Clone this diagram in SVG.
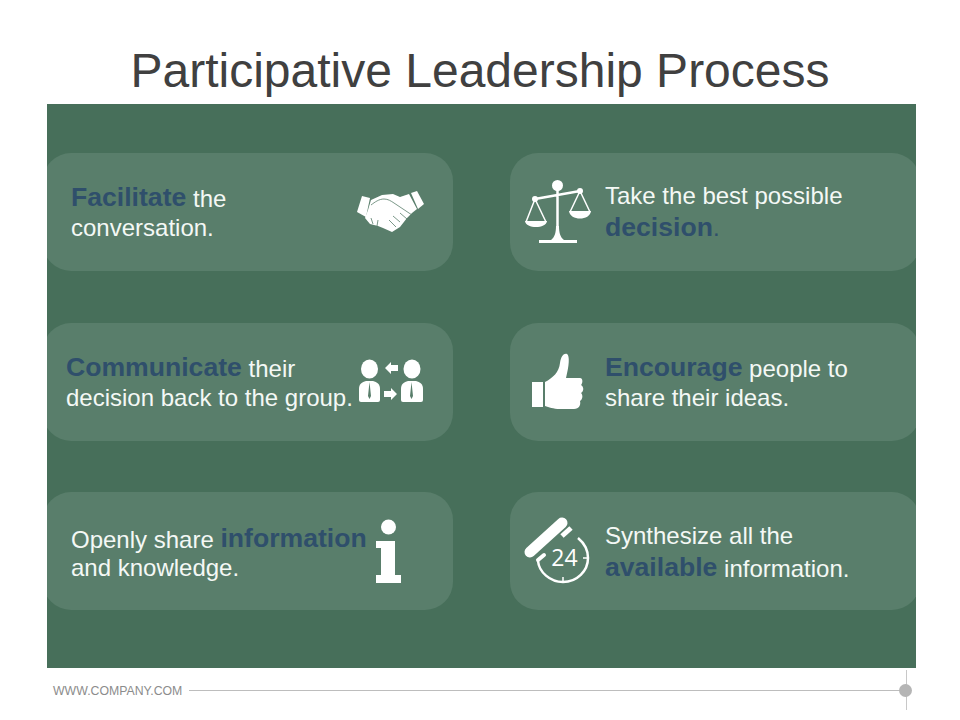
<svg xmlns="http://www.w3.org/2000/svg" width="960" height="720" viewBox="0 0 960 720">
<style>
text{font-family:"Liberation Sans",Arial,sans-serif}
.card{fill:#597e6b}
.t{font-size:24px;fill:#f4f8f5}
.b{font-size:26.6px;font-weight:bold;fill:#2f4f6b}
.w{fill:#fff}
.ws{fill:none;stroke:#fff}
.d{fill:none;stroke:#597e6b;stroke-width:0.800}
</style>
<defs><clipPath id="panel"><rect x="47" y="104" width="869" height="564"/></clipPath></defs>
<rect width="960" height="720" fill="#fff"/>
<text x="480" y="87" font-size="48" text-anchor="middle" fill="#404040">Participative Leadership Process</text>
<rect x="47" y="104" width="869" height="564" fill="#476f5a"/>
<g id="connectors">
<path d="M189 690.500H900" stroke="#bdbdbd" stroke-width="1.200" fill="none"/>
<path d="M906.500 670V710" stroke="#c8c8c8" stroke-width="1" fill="none"/>
</g>
<g id="footer">
<text x="53" y="695" font-size="12.300" fill="#8c8c8c">WWW.COMPANY.COM</text>
<circle cx="905.500" cy="690.500" r="6.500" fill="#b5b5b5"/>
</g>
<g id="node-facilitate">
<rect class="card" clip-path="url(#panel)" x="43" y="153" width="410" height="118" rx="28"/>
<text x="71" y="206"><tspan class="b">Facilitate</tspan><tspan class="t" dy="1"> the</tspan></text>
<text class="t" x="71" y="236">conversation.</text>
<g id="icon-handshake">
<path class="w" d="M362 196L370 198L366 217L357 212Z"/>
<path class="w" d="M411 193L417 191L424 204L418 209Z"/>
<path class="w" d="M371 200L382 195L393 194L400 197L409 194L417 209L412 213L407 218L400 227L392 232L383 228L378 226L370 224L365 218L368 210Z"/>
<path class="d" d="M371 205C375 202 379 199 384 199C388 199 391 201 394 203L412 215M393 216L400 222M400 213L407 219M389 220L396 227M371 218L373 224M378 220L377 226"/>
</g>
</g>
<g id="node-decision">
<rect class="card" clip-path="url(#panel)" x="510" y="153" width="410" height="118" rx="28"/>
<text class="t" x="605" y="204">Take the best possible</text>
<text x="605" y="236"><tspan class="b">decision</tspan><tspan class="t" style="fill:#2f4f6b">.</tspan></text>
<g id="icon-scales">
<circle class="w" cx="557.500" cy="185.500" r="5.500"/>
<path class="ws" stroke-width="2.500" d="M557.500 188V232M535 199L580 191"/>
<circle class="w" cx="535" cy="199" r="3"/>
<circle class="w" cx="580" cy="191" r="3"/>
<path class="ws" stroke-width="1.500" d="M535 199L526 222M535 199L546 222M580 191L570 212M580 191L590 212"/>
<path class="w" d="M525 221H547C546 229 526 229 525 221ZM569 211H591C590 221 570 221 569 211Z"/>
<path class="w" d="M539 243V240H551C555 237 556 232 556 226H559C559 232 560 237 564 240H577V243Z"/>
</g>
</g>
<g id="node-communicate">
<rect class="card" clip-path="url(#panel)" x="43" y="323" width="410" height="118" rx="28"/>
<text x="66" y="376"><tspan class="b">Communicate</tspan><tspan class="t" dy="1"> their</tspan></text>
<text class="t" x="66" y="406">decision back to the group.</text>
<g id="icon-people">
<ellipse class="w" cx="369.500" cy="369" rx="8.500" ry="9.500"/>
<ellipse class="w" cx="412" cy="369" rx="8.500" ry="9.500"/>
<path class="w" d="M359 400V389C359 384 362 382 366 381H373C377 382 380 384 380 389V400Q380 402 378 402H361Q359 402 359 400Z"/>
<path class="w" d="M401 400V389C401 384 404 382 408 381H416C420 382 423 384 423 389V400Q423 402 421 402H403Q401 402 401 400Z"/>
<path d="M369.500 382L368 396L369.500 399L371 396ZM411.500 382L410 396L411.500 399L413 396Z" fill="#597e6b"/>
<path class="w" d="M385 368L391 362V365H398V371H391V374Z"/>
<path class="w" d="M397 394L391 388V391H384V397H391V400Z"/>
</g>
</g>
<g id="node-encourage">
<rect class="card" clip-path="url(#panel)" x="510" y="323" width="410" height="118" rx="28"/>
<text x="605" y="376"><tspan class="b">Encourage</tspan><tspan class="t" dy="1"> people to</tspan></text>
<text class="t" x="605" y="406">share their ideas.</text>
<g id="icon-thumb">
<rect class="w" x="532" y="382" width="11" height="25"/>
<path class="w" d="M545 382C553 378 559 372 560 363C561 356 564 353 567 354C570 356 569 366 566 378H580C583 378 583 383 581 385C584 387 584 391 581 393C583 395 583 399 580 401C581 405 579 409 574 409H560C553 409 549 407 545 406Z"/>
</g>
</g>
<g id="node-information">
<rect class="card" clip-path="url(#panel)" x="43" y="492" width="410" height="118" rx="28"/>
<text x="71" y="548"><tspan class="t">Openly share </tspan><tspan class="b" dy="-1">information</tspan></text>
<text class="t" x="71" y="576">and knowledge.</text>
<g id="icon-info">
<circle class="w" cx="388.500" cy="527" r="7.500"/>
<path class="w" d="M376 541H395V575H401V583H376V575H381V548H376Z"/>
</g>
</g>
<g id="node-synthesize">
<rect class="card" clip-path="url(#panel)" x="510" y="492" width="410" height="118" rx="28"/>
<text class="t" x="605" y="544">Synthesize all the</text>
<text x="605" y="576"><tspan class="b">available</tspan><tspan class="t" dy="1"> information.</tspan></text>
<g id="icon-clock">
<path class="ws" stroke-width="11" stroke-linejoin="round" stroke-linecap="round" d="M530 552L562 523"/>
<path class="ws" stroke-width="5" d="M562 536L571 528"/>
<path class="ws" stroke-width="2.500" d="M578 538C584 543 588 550 588 558C588 571 577 582 563 582C550 582 539 572 538 561"/>
<path class="ws" stroke-width="4" stroke-linecap="round" d="M538 560L544 555"/>
<path class="ws" stroke-width="1.500" d="M563 577V582M583 558H588"/>
<text x="564.500" y="566" font-size="23" text-anchor="middle" fill="#fff" style="font-family:'Open Sans',sans-serif;font-weight:400">24</text>
</g>
</g>
</svg>
